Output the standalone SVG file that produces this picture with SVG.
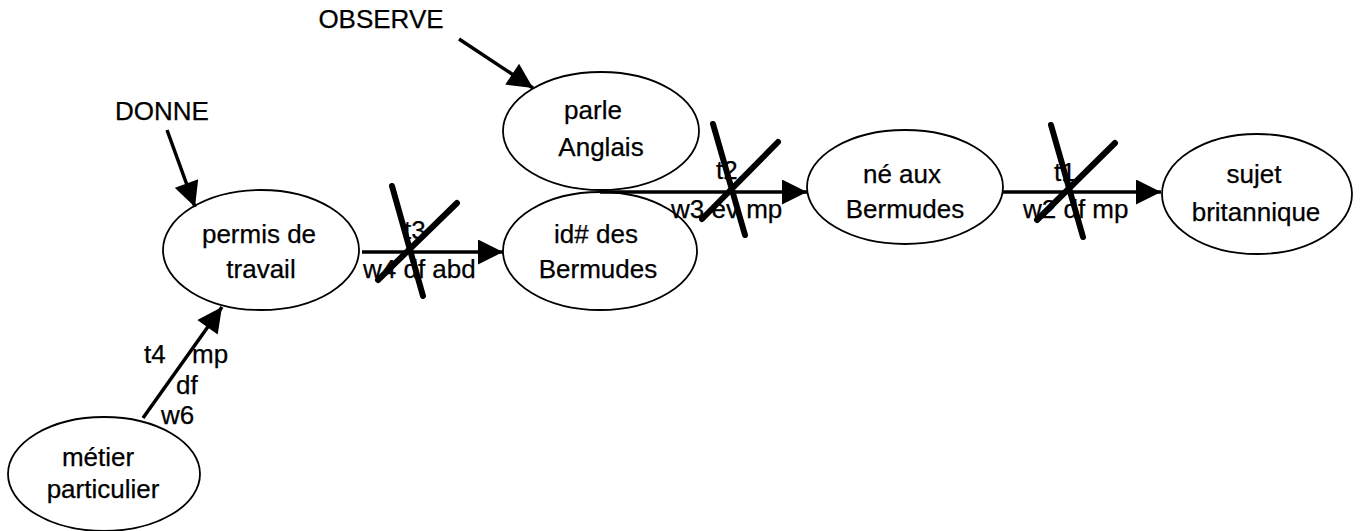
<svg xmlns="http://www.w3.org/2000/svg" width="1360" height="531" viewBox="0 0 1360 531">
<defs>
<style>
text{font-family:"Liberation Sans",Arial,Helvetica,sans-serif;font-size:26px;fill:#000;stroke:#000;stroke-width:0.25;}
.c{text-anchor:middle;}
#nodes ellipse{fill:#fff;stroke:#000;stroke-width:1.8;}
.edge{stroke:#000;stroke-width:3.5;fill:none;}
.x{stroke:#000;stroke-width:6;stroke-linecap:round;fill:none;}
</style>
<marker id="ah" viewBox="0 0 10 10" refX="10" refY="5" markerUnits="userSpaceOnUse" markerWidth="27" markerHeight="25" orient="auto">
<path d="M0,0 L10,5 L0,10 Z" fill="#000"/>
</marker>
</defs>
<rect width="1360" height="531" fill="#fff"/>

<g id="nodes">
<g id="permis"><ellipse cx="261" cy="250" rx="98" ry="60"/><text class="c" x="259" y="243">permis de</text><text class="c" x="261" y="278">travail</text></g>
<g id="parle"><ellipse cx="601" cy="131" rx="98" ry="59"/><text class="c" x="593" y="119">parle</text><text class="c" x="601" y="156">Anglais</text></g>
<g id="id"><ellipse cx="600" cy="251" rx="97" ry="59"/><text class="c" x="596" y="243">id# des</text><text class="c" x="598" y="278">Bermudes</text></g>
<g id="ne"><ellipse cx="905" cy="187" rx="98" ry="57"/><text class="c" x="902" y="183">né aux</text><text class="c" x="905" y="218">Bermudes</text></g>
<g id="sujet"><ellipse cx="1257" cy="194" rx="95" ry="60"/><text class="c" x="1254" y="183">sujet</text><text class="c" x="1256" y="221">britannique</text></g>
<g id="metier"><ellipse cx="104" cy="474" rx="96" ry="57"/><text class="c" x="98" y="466">métier</text><text class="c" x="103" y="498">particulier</text></g>
</g>

<g id="labels">
<text class="c" x="162" y="120">DONNE</text>
<text class="c" x="381" y="28">OBSERVE</text>
</g>

<g id="connectors">
<line class="edge" x1="167" y1="130" x2="195" y2="207" marker-end="url(#ah)"/>
<line class="edge" x1="459" y1="39" x2="533" y2="88" marker-end="url(#ah)"/>
<line class="edge" x1="143" y1="418" x2="222" y2="307" marker-end="url(#ah)"/>
<line class="edge" x1="362" y1="252" x2="503" y2="252" marker-end="url(#ah)"/>
<line class="edge" x1="600" y1="192" x2="807" y2="192" marker-end="url(#ah)"/>
<line class="edge" x1="1003" y1="192" x2="1161" y2="192" marker-end="url(#ah)"/>

<text x="144" y="363">t4</text>
<text x="192" y="363">mp</text>
<text x="176" y="394">df</text>
<text x="161" y="424">w6</text>

<text x="404" y="239">t3</text>
<text x="363" y="278">w4 df abd</text>
<text x="716" y="179">t2</text>
<text x="671" y="218">w3 ev mp</text>
<text x="1054" y="181">t1</text>
<text x="1023" y="218">w2 df mp</text>

<line class="x" x1="392" y1="186" x2="423" y2="296"/>
<line class="x" x1="457" y1="203" x2="378" y2="280"/>
<line class="x" x1="713" y1="124" x2="745" y2="235"/>
<line class="x" x1="778" y1="142" x2="702" y2="219"/>
<line class="x" x1="1051" y1="125" x2="1083" y2="237"/>
<line class="x" x1="1115" y1="143" x2="1037" y2="220"/>
</g>
</svg>
